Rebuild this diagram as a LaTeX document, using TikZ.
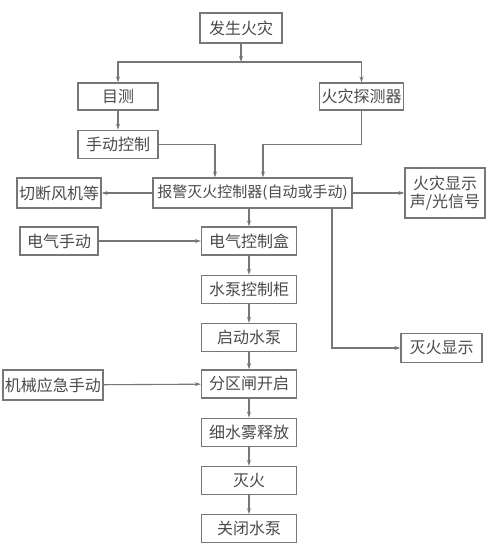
\documentclass[tikz,border=0pt]{standalone}
\usepackage{fontspec}
\newfontfamily\cjk{Noto Sans CJK SC}
\usepackage{xcolor}
\usepackage{tikz}
\usetikzlibrary{arrows.meta,positioning,calc}

\definecolor{linegray}{HTML}{777777}
\definecolor{textgray}{HTML}{4A4A4A}

\begin{document}
\begin{tikzpicture}[
  x=1pt, y=-1pt,
  font=\cjk\fontsize{16}{19}\selectfont,
  node distance=19pt,
  box/.style={draw=linegray,line width=1.3pt,text=textgray,minimum height=28pt,inner sep=2pt,align=center},
  col/.style={box,minimum width=95pt},
  arrow/.style={-{Stealth[length=6pt,width=4pt]},draw=linegray,line width=1.1pt},
]
\useasboundingbox (0,0) rectangle (500,556);
% top of the flow
\node[box, line width=2.2pt, minimum width=82pt, minimum height=30pt] (fire) at (241,28) {发生火灾};
\coordinate (split) at (241,62);
\node[box, minimum width=80pt, minimum height=27pt] (look) at (118,96.5) {目测};
\node[box, minimum width=81pt, minimum height=27pt] (detector) at (361.5,96.5) {火灾探测器};
\node[box, minimum width=80pt, below=19pt of look] (manual) {手动控制};
% controller row
\node[box, minimum width=199pt, minimum height=30pt, font=\cjk\fontsize{15}{18}\selectfont] (ctrl) at (252.5,193) {报警灭火控制器(自动或手动)};
\node[box, minimum width=78pt, minimum height=30pt] (fan) at (59,193) {切断风机等};
\node[box, minimum width=80pt, minimum height=50pt, font=\cjk\fontsize{16}{18}\selectfont] (alarm) at (445,193) {火灾显示\\声/光信号};
% main column
\node[col] (ebox) at (249,241) {电气控制盒};
\node[col, below=of ebox] (pumpbox) {水泵控制柜};
\node[col, below=of pumpbox] (pumpon) {启动水泵};
\node[col, below=17pt of pumpon] (valve) {分区闸开启};
\node[col, below=of valve] (mist) {细水雾释放};
\node[col, below=of mist] (out) {灭火};
\node[col, below=of out] (pumpoff) {关闭水泵};
% side inputs
\node[box, minimum width=78pt] (emanual) at (59,241) {电气手动};
\node[box, minimum width=90pt, minimum height=30pt] (mech) at (53,385) {机械应急手动};
\node[box, minimum width=81pt, minimum height=29pt] (done) at (441.5,348) {灭火显示};

\draw[arrow] (fire) -- (split);
\draw[arrow] (split) -| (look);
\draw[arrow] (split) -| (detector);
\draw[arrow] (look) -- (manual);
\draw[arrow] (manual) -| ([xshift=-37.5pt]ctrl.north);
\draw[arrow] (detector) |- ([xshift=10.5pt]ctrl.north |- manual) -- ([xshift=10.5pt]ctrl.north);
\draw[arrow] (ctrl) -- (fan);
\draw[arrow] (ctrl) -- (alarm);
\draw[arrow] (ctrl.south -| ebox) -- (ebox);
\draw[arrow] ([xshift=79.5pt]ctrl.south) |- (done);
\draw[arrow] (emanual) -- (ebox);
\draw[arrow] (ebox) -- (pumpbox);
\draw[arrow] (pumpbox) -- (pumpon);
\draw[arrow] (pumpon) -- (valve);
\draw[arrow] (mech) -- (valve);
\draw[arrow] (valve) -- (mist);
\draw[arrow] (mist) -- (out);
\draw[arrow] (out) -- (pumpoff);
\end{tikzpicture}
\end{document}
